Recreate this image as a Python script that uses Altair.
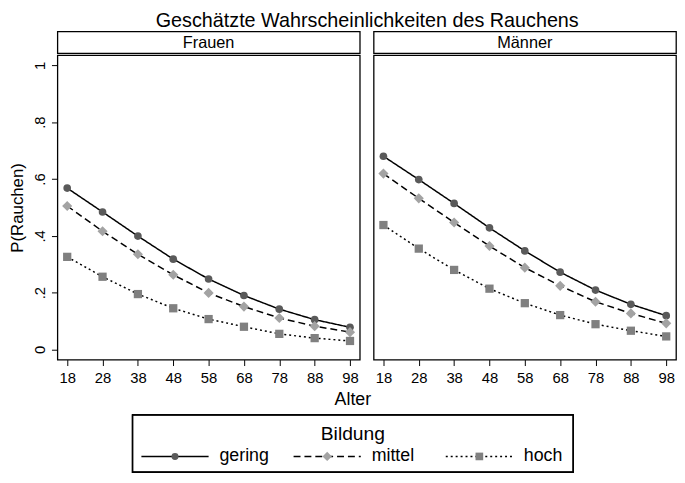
import altair as alt
import pandas as pd

# ---- data ----
ages = [18, 28, 38, 48, 58, 68, 78, 88, 98]
categories = ["gering", "mittel", "hoch"]
panels = ["Frauen", "Männer"]

frauen_gering = [0.568, 0.484, 0.399, 0.318, 0.248, 0.190, 0.142, 0.105, 0.078]
frauen_mittel = [0.505, 0.416, 0.335, 0.263, 0.199, 0.151, 0.111, 0.082, 0.061]
frauen_hoch = [0.326, 0.256, 0.195, 0.145, 0.107, 0.080, 0.055, 0.040, 0.030]

maenner_gering = [0.680, 0.598, 0.514, 0.428, 0.347, 0.272, 0.209, 0.159, 0.119]
maenner_mittel = [0.619, 0.532, 0.447, 0.364, 0.288, 0.224, 0.168, 0.127, 0.092]
maenner_hoch = [0.438, 0.355, 0.280, 0.214, 0.163, 0.121, 0.089, 0.066, 0.046]

y_ticks = [0, 0.2, 0.4, 0.6, 0.8, 1]

series = {
    ("Frauen", "gering"): frauen_gering,
    ("Frauen", "mittel"): frauen_mittel,
    ("Frauen", "hoch"): frauen_hoch,
    ("Männer", "gering"): maenner_gering,
    ("Männer", "mittel"): maenner_mittel,
    ("Männer", "hoch"): maenner_hoch,
}
rows = []
for (sex, cat), vals in series.items():
    for a, v in zip(ages, vals):
        rows.append({"sex": sex, "bildung": cat, "alter": a, "p": v})
df = pd.DataFrame(rows)

FONT = "Liberation Sans"
marker_colors = ["#5a5a5a", "#a3a3a3", "#808080"]
dash_range = [[1, 0], [7, 4], [2, 3]]
shape_range = ["circle", "diamond", "square"]
plot_sizes = {"gering": 60, "mittel": 105, "hoch": 70}
legend_sizes = {"gering": 50, "mittel": 90, "hoch": 60}

color_scale = alt.Scale(domain=categories, range=marker_colors)
shape_scale = alt.Scale(domain=categories, range=shape_range)
dash_scale = alt.Scale(domain=categories, range=dash_range)

W, H, HDR = 306, 308, 22


def markers(base, x, y, sizes):
    layers = []
    for cat in categories:
        layers.append(
            base.transform_filter(alt.datum.bildung == cat)
            .mark_point(filled=True, opacity=1, size=sizes[cat])
            .encode(
                x=x, y=y,
                shape=alt.Shape("bildung:N", scale=shape_scale, legend=None),
                color=alt.Color("bildung:N", scale=color_scale, legend=None),
            )
        )
    return layers


def panel(sex, show_y):
    d = df[df.sex == sex]
    x = alt.X("alter:Q",
              scale=alt.Scale(domain=[15.23, 100.77], nice=False, zero=False),
              axis=alt.Axis(values=ages, title=None, grid=False, domain=False,
                            tickSize=6, tickColor="black", labelFontSize=15,
                            labelColor="black", labelFont=FONT, labelPadding=5))
    if show_y:
        yaxis = alt.Axis(values=y_ticks, title="P(Rauchen)", grid=False, domain=False,
                         tickSize=6, tickColor="black", labelFontSize=15,
                         labelColor="black", labelFont=FONT, labelAngle=270,
                         labelPadding=4, titleFontSize=17, titleFont=FONT,
                         titleFontWeight="normal", titleColor="black", titlePadding=6,
                         labelExpr="datum.value == 0 ? '0' : datum.value == 1 ? '1' : replace(format(datum.value, '.1f'), '0.', '.')")
    else:
        yaxis = None
    y = alt.Y("p:Q", scale=alt.Scale(domain=[-0.0356, 1.0356], nice=False, zero=False),
              axis=yaxis)
    base = alt.Chart(d)
    lines = base.mark_line(color="black", strokeWidth=1.5).encode(
        x=x, y=y,
        strokeDash=alt.StrokeDash("bildung:N", scale=dash_scale, legend=None),
        detail="bildung:N",
    )
    plot = alt.layer(lines, *markers(base, x, y, plot_sizes)).properties(width=W, height=H)
    header = alt.Chart(pd.DataFrame({"t": [sex]})).mark_text(
        fontSize=16.5, font=FONT, color="black"
    ).encode(text="t:N", x=alt.value(W / 2), y=alt.value(HDR / 2 + 1)).properties(width=W, height=HDR)
    return alt.vconcat(header, plot, spacing=0)


row = alt.hconcat(panel("Frauen", True), panel("Männer", False), spacing=12)

# ---- legend (manual, to show line + marker symbols) ----
leg = pd.DataFrame({"bildung": categories, "pos": list(range(len(categories)))})
LW, LH = 624, 85
CX = 299
IY = 69
lx = alt.X("pos:Q", scale=alt.Scale(domain=[0, len(categories) - 1], range=[119, 427], nice=False, zero=False), axis=None)
ly = alt.value(IY)
lbase = alt.Chart(leg)
box = lbase.mark_rect(fill=None, stroke="black", strokeWidth=1.3).encode(
    x=alt.value(CX - 223), x2=alt.value(CX + 223), y=alt.value(27), y2=alt.value(85))
alter_t = alt.Chart(pd.DataFrame({"t": ["Alter"]})).mark_text(fontSize=18, font=FONT, color="black").encode(
    text="t:N", x=alt.value(CX), y=alt.value(12))
bild_t = alt.Chart(pd.DataFrame({"t": ["Bildung"]})).mark_text(fontSize=19.5, font=FONT, color="black").encode(
    text="t:N", x=alt.value(CX), y=alt.value(46))
seg = lbase.mark_rule(color="black", strokeWidth=1.5, xOffset=-34, x2Offset=34).encode(
    x=lx, x2="pos:Q", y=ly,
    strokeDash=alt.StrokeDash("bildung:N", scale=dash_scale, legend=None))
lab = lbase.mark_text(align="left", dx=45, fontSize=18, font=FONT, color="black").encode(
    x=lx, y=ly, text="bildung:N")
legend = alt.layer(box, alter_t, bild_t, seg, *markers(lbase, lx, ly, legend_sizes), lab).properties(
    width=LW, height=LH, view=alt.ViewConfig(strokeWidth=0))

chart = alt.vconcat(row, legend, spacing=2).properties(
    title=alt.TitleParams("Geschätzte Wahrscheinlichkeiten des Rauchens", fontSize=20, font=FONT,
                          fontWeight="normal", color="black", anchor="middle", offset=0, dx=25),
    padding=0,
).configure_view(stroke="black", strokeWidth=1.3).configure_concat(spacing=0)

chart.save("out.html", embed_options={"renderer": "svg", "actions": False})
